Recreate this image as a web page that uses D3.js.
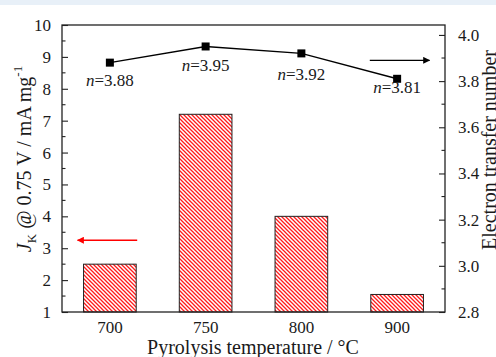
<!DOCTYPE html>
<html>
<head>
<meta charset="utf-8">
<script src="https://cdn.jsdelivr.net/npm/d3@7"></script>
<style>
  body { margin: 0; background: #fff; }
</style>
</head>
<body>
<div id="chart"></div>
<script>
// pyrolysis temperatures (categories)
const temps = ['700', '750', '800', '900'];
// kinetic current density J_K @ 0.75 V (mA mg-1)
const jk = [2.5, 7.2, 4.0, 1.55];
// electron transfer number n
const nVals = [3.88, 3.95, 3.92, 3.81];
const leftTicks = [1, 2, 3, 4, 5, 6, 7, 8, 9, 10];
const rightTicks = [2.8, 3.0, 3.2, 3.4, 3.6, 3.8, 4.0];

const FONT = 'Liberation Serif, Times New Roman, serif';
const W = 496, H = 357;
const margin = { top: 25, right: 51, bottom: 45, left: 62 };
const iw = W - margin.left - margin.right;
const ih = H - margin.top - margin.bottom;

const svg = d3.select('#chart').append('svg')
  .attr('width', W)
  .attr('height', H)
  .attr('font-family', FONT);

// light top strip
svg.append('rect')
  .attr('x', 0).attr('y', 0)
  .attr('width', W).attr('height', 5)
  .attr('fill', '#e8f0f8');

const defs = svg.append('defs');
const pat = defs.append('pattern')
  .attr('id', 'hatch')
  .attr('patternUnits', 'userSpaceOnUse')
  .attr('width', 4).attr('height', 4);
pat.append('rect').attr('width', 4).attr('height', 4).attr('fill', '#fff');
pat.append('path')
  .attr('d', 'M-1,-1 L5,5 M3,-1 L5,1 M-1,3 L1,5')
  .attr('stroke', '#ff1a1a')
  .attr('stroke-width', 1.3);

const mk = (id, col) => {
  const m = defs.append('marker')
    .attr('id', id)
    .attr('viewBox', '0 0 10 10')
    .attr('refX', 9).attr('refY', 5)
    .attr('markerWidth', 7).attr('markerHeight', 7)
    .attr('markerUnits', 'userSpaceOnUse')
    .attr('orient', 'auto');
  m.append('path').attr('d', 'M0,0 L10,5 L0,10 Z').attr('fill', col);
};
mk('arrowBlack', '#000');
mk('arrowRed', '#f00');

const g = svg.append('g').attr('transform', `translate(${margin.left},${margin.top})`);

const x = d3.scaleBand(temps, [0, iw]).paddingInner(0.45).paddingOuter(0.225);
const yL = d3.scaleLinear([1, 10], [ih, 0]);
const yR = d3.scaleLinear([2.8, 4.043], [ih, 0]);

// bars
g.append('g')
  .selectAll('rect')
  .data(jk)
  .enter()
  .append('rect')
  .attr('x', (d, i) => x(temps[i]))
  .attr('y', (d) => yL(d))
  .attr('width', x.bandwidth())
  .attr('height', (d) => yL(1) - yL(d))
  .attr('fill', 'url(#hatch)')
  .attr('stroke', '#222')
  .attr('stroke-width', 1);

// n line
const cx = (i) => x(temps[i]) + x.bandwidth() / 2;
const line = d3.line()
  .x((d, i) => cx(i))
  .y((d) => yR(d));
g.append('path')
  .datum(nVals)
  .attr('d', line)
  .attr('fill', 'none')
  .attr('stroke', '#000')
  .attr('stroke-width', 1.4);

g.append('g')
  .selectAll('rect')
  .data(nVals)
  .enter()
  .append('rect')
  .attr('x', (d, i) => cx(i) - 4)
  .attr('y', (d) => yR(d) - 4)
  .attr('width', 8)
  .attr('height', 8)
  .attr('fill', '#000');

const labelDy = [23, 25, 27, 14];
const lab = g.append('g')
  .selectAll('text')
  .data(nVals)
  .enter()
  .append('text')
  .attr('x', (d, i) => cx(i))
  .attr('y', (d, i) => yR(d) + labelDy[i])
  .attr('text-anchor', 'middle')
  .attr('font-family', FONT)
  .attr('font-size', 17)
  .attr('fill', '#1a1a1a');
lab.append('tspan').attr('font-style', 'italic').text('n');
lab.append('tspan').text((d) => '=' + d.toFixed(2));

// axes (ticks inward)
const leftAxis = d3.axisLeft(yL).tickValues(leftTicks).tickSize(-6).tickPadding(11).tickFormat(d3.format('d'));
const gl = g.append('g').call(leftAxis);
const rightAxis = d3.axisRight(yR).tickValues(rightTicks).tickSize(-6).tickPadding(13).tickFormat(d3.format('.1f'));
const gr = g.append('g').attr('transform', `translate(${iw},0)`).call(rightAxis);
const bottomAxis = d3.axisBottom(x).tickSize(0).tickPadding(9);
const gb = g.append('g').attr('transform', `translate(0,${ih})`).call(bottomAxis);

[gl, gr, gb].forEach((a) => {
  a.attr('font-family', FONT).attr('font-size', 17);
  a.select('.domain').remove();
  a.selectAll('line').attr('stroke', '#222').attr('stroke-width', 1.1);
  a.selectAll('text').attr('fill', '#1a1a1a');
});

// minor ticks
g.append('g')
  .selectAll('line')
  .data(d3.range(1.5, 10, 1))
  .enter()
  .append('line')
  .attr('x1', 0).attr('x2', 3.5)
  .attr('y1', (d) => yL(d)).attr('y2', (d) => yL(d))
  .attr('stroke', '#222').attr('stroke-width', 1.1);
g.append('g')
  .selectAll('line')
  .data([2.9, 3.1, 3.3, 3.5, 3.7, 3.9])
  .enter()
  .append('line')
  .attr('x1', iw).attr('x2', iw - 3.5)
  .attr('y1', (d) => yR(d)).attr('y2', (d) => yR(d))
  .attr('stroke', '#222').attr('stroke-width', 1.1);

// frame
g.append('rect')
  .attr('width', iw).attr('height', ih)
  .attr('fill', 'none')
  .attr('stroke', '#222')
  .attr('stroke-width', 1.3);

// arrows
g.append('line')
  .attr('x1', x('700') + x.bandwidth() + 1).attr('x2', x('700') - 6)
  .attr('y1', yL(3.25)).attr('y2', yL(3.25))
  .attr('stroke', '#f00').attr('stroke-width', 1.3)
  .attr('marker-end', 'url(#arrowRed)');
g.append('line')
  .attr('x1', x('900') - 1).attr('x2', x('900') + x.bandwidth() + 6)
  .attr('y1', yR(3.89)).attr('y2', yR(3.89))
  .attr('stroke', '#000').attr('stroke-width', 1.3)
  .attr('marker-end', 'url(#arrowBlack)');

// axis titles
const lt = svg.append('text')
  .attr('transform', 'translate(31,159) rotate(-90)')
  .attr('text-anchor', 'middle')
  .attr('font-size', 20)
  .attr('fill', '#1a1a1a');
lt.append('tspan').attr('font-style', 'italic').text('J');
lt.append('tspan').attr('dy', 5).attr('font-size', 13).text('K');
lt.append('tspan').attr('dy', -5).text(' @ 0.75 V / mA mg');
lt.append('tspan').attr('dy', -9).attr('font-size', 13).text('-1');

svg.append('text')
  .attr('transform', 'translate(496,150) rotate(-90)')
  .attr('text-anchor', 'middle')
  .attr('font-size', 20)
  .attr('fill', '#1a1a1a')
  .text('Electron transfer number');

svg.append('text')
  .attr('x', 253).attr('y', 354)
  .attr('text-anchor', 'middle')
  .attr('font-size', 20)
  .attr('fill', '#1a1a1a')
  .text('Pyrolysis temperature / °C');
</script>
</body>
</html>
